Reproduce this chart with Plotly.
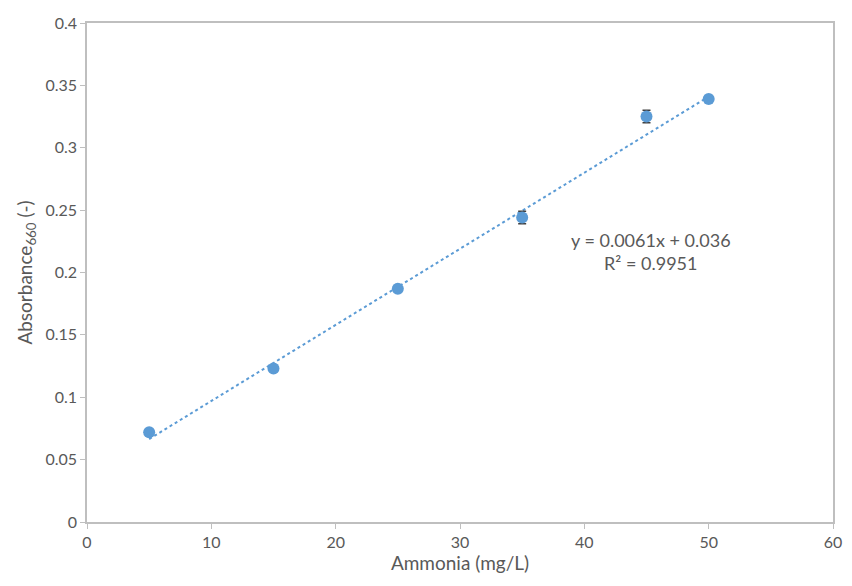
import plotly.graph_objects as go

ammonia = [5, 15, 25, 35, 45, 50]
absorbance = [0.072, 0.123, 0.187, 0.244, 0.325, 0.339]
abs_err = [0.001, 0.001, 0.001, 0.005, 0.005, 0.001]
trend_slope = 0.0061
trend_intercept = 0.036
trend_x = [min(ammonia), max(ammonia)]
trend_y = [trend_slope * x + trend_intercept for x in trend_x]

blue = "#5B9BD5"
grey_text = "#595959"
axis_col = "#BFBFBF"
font_fam = "Lato, Open Sans, sans-serif"

fig = go.Figure()
fig.add_trace(go.Scatter(
    x=trend_x, y=trend_y, mode="lines",
    line=dict(color=blue, width=2, dash="dot"), hoverinfo="skip", showlegend=False))
fig.add_trace(go.Scatter(
    x=ammonia, y=absorbance, mode="markers",
    marker=dict(color=blue, size=12),
    error_y=dict(type="data", array=abs_err, visible=True, color="#404040", thickness=1.5, width=4),
    showlegend=False))

fig.add_annotation(x=45.4, y=0.217, xref="x", yref="y",
                   text="y = 0.0061x + 0.036<br>R² = 0.9951", showarrow=False,
                   font=dict(family=font_fam, size=18, color=grey_text), align="center")

fig.update_layout(
    width=836, height=570,
    margin=dict(l=79, r=2, t=15, b=56),
    paper_bgcolor="white", plot_bgcolor="white",
    font=dict(family=font_fam, color=grey_text),
    xaxis=dict(range=[0, 60], dtick=10, showgrid=False, zeroline=False,
               showline=True, linecolor=axis_col, linewidth=1.5, mirror=True,
               ticks="outside", ticklen=5, tickcolor=axis_col,
               ticklabeloverflow="allow",
               tickfont=dict(size=16, color=grey_text),
               title=dict(text="Ammonia (mg/L)", font=dict(size=19, color=grey_text), standoff=6)),
    yaxis=dict(range=[0, 0.4], dtick=0.05, showgrid=False, zeroline=False,
               showline=True, linecolor=axis_col, linewidth=1.5, mirror=True,
               ticks="outside", ticklen=5, tickcolor=axis_col,
               tickfont=dict(size=16, color=grey_text),
               title=dict(text="Absorbance<sub>660</sub> (-)", font=dict(size=19, color=grey_text), standoff=8)),
)

fig.write_html("out.html", config={"displayModeBar": False})
